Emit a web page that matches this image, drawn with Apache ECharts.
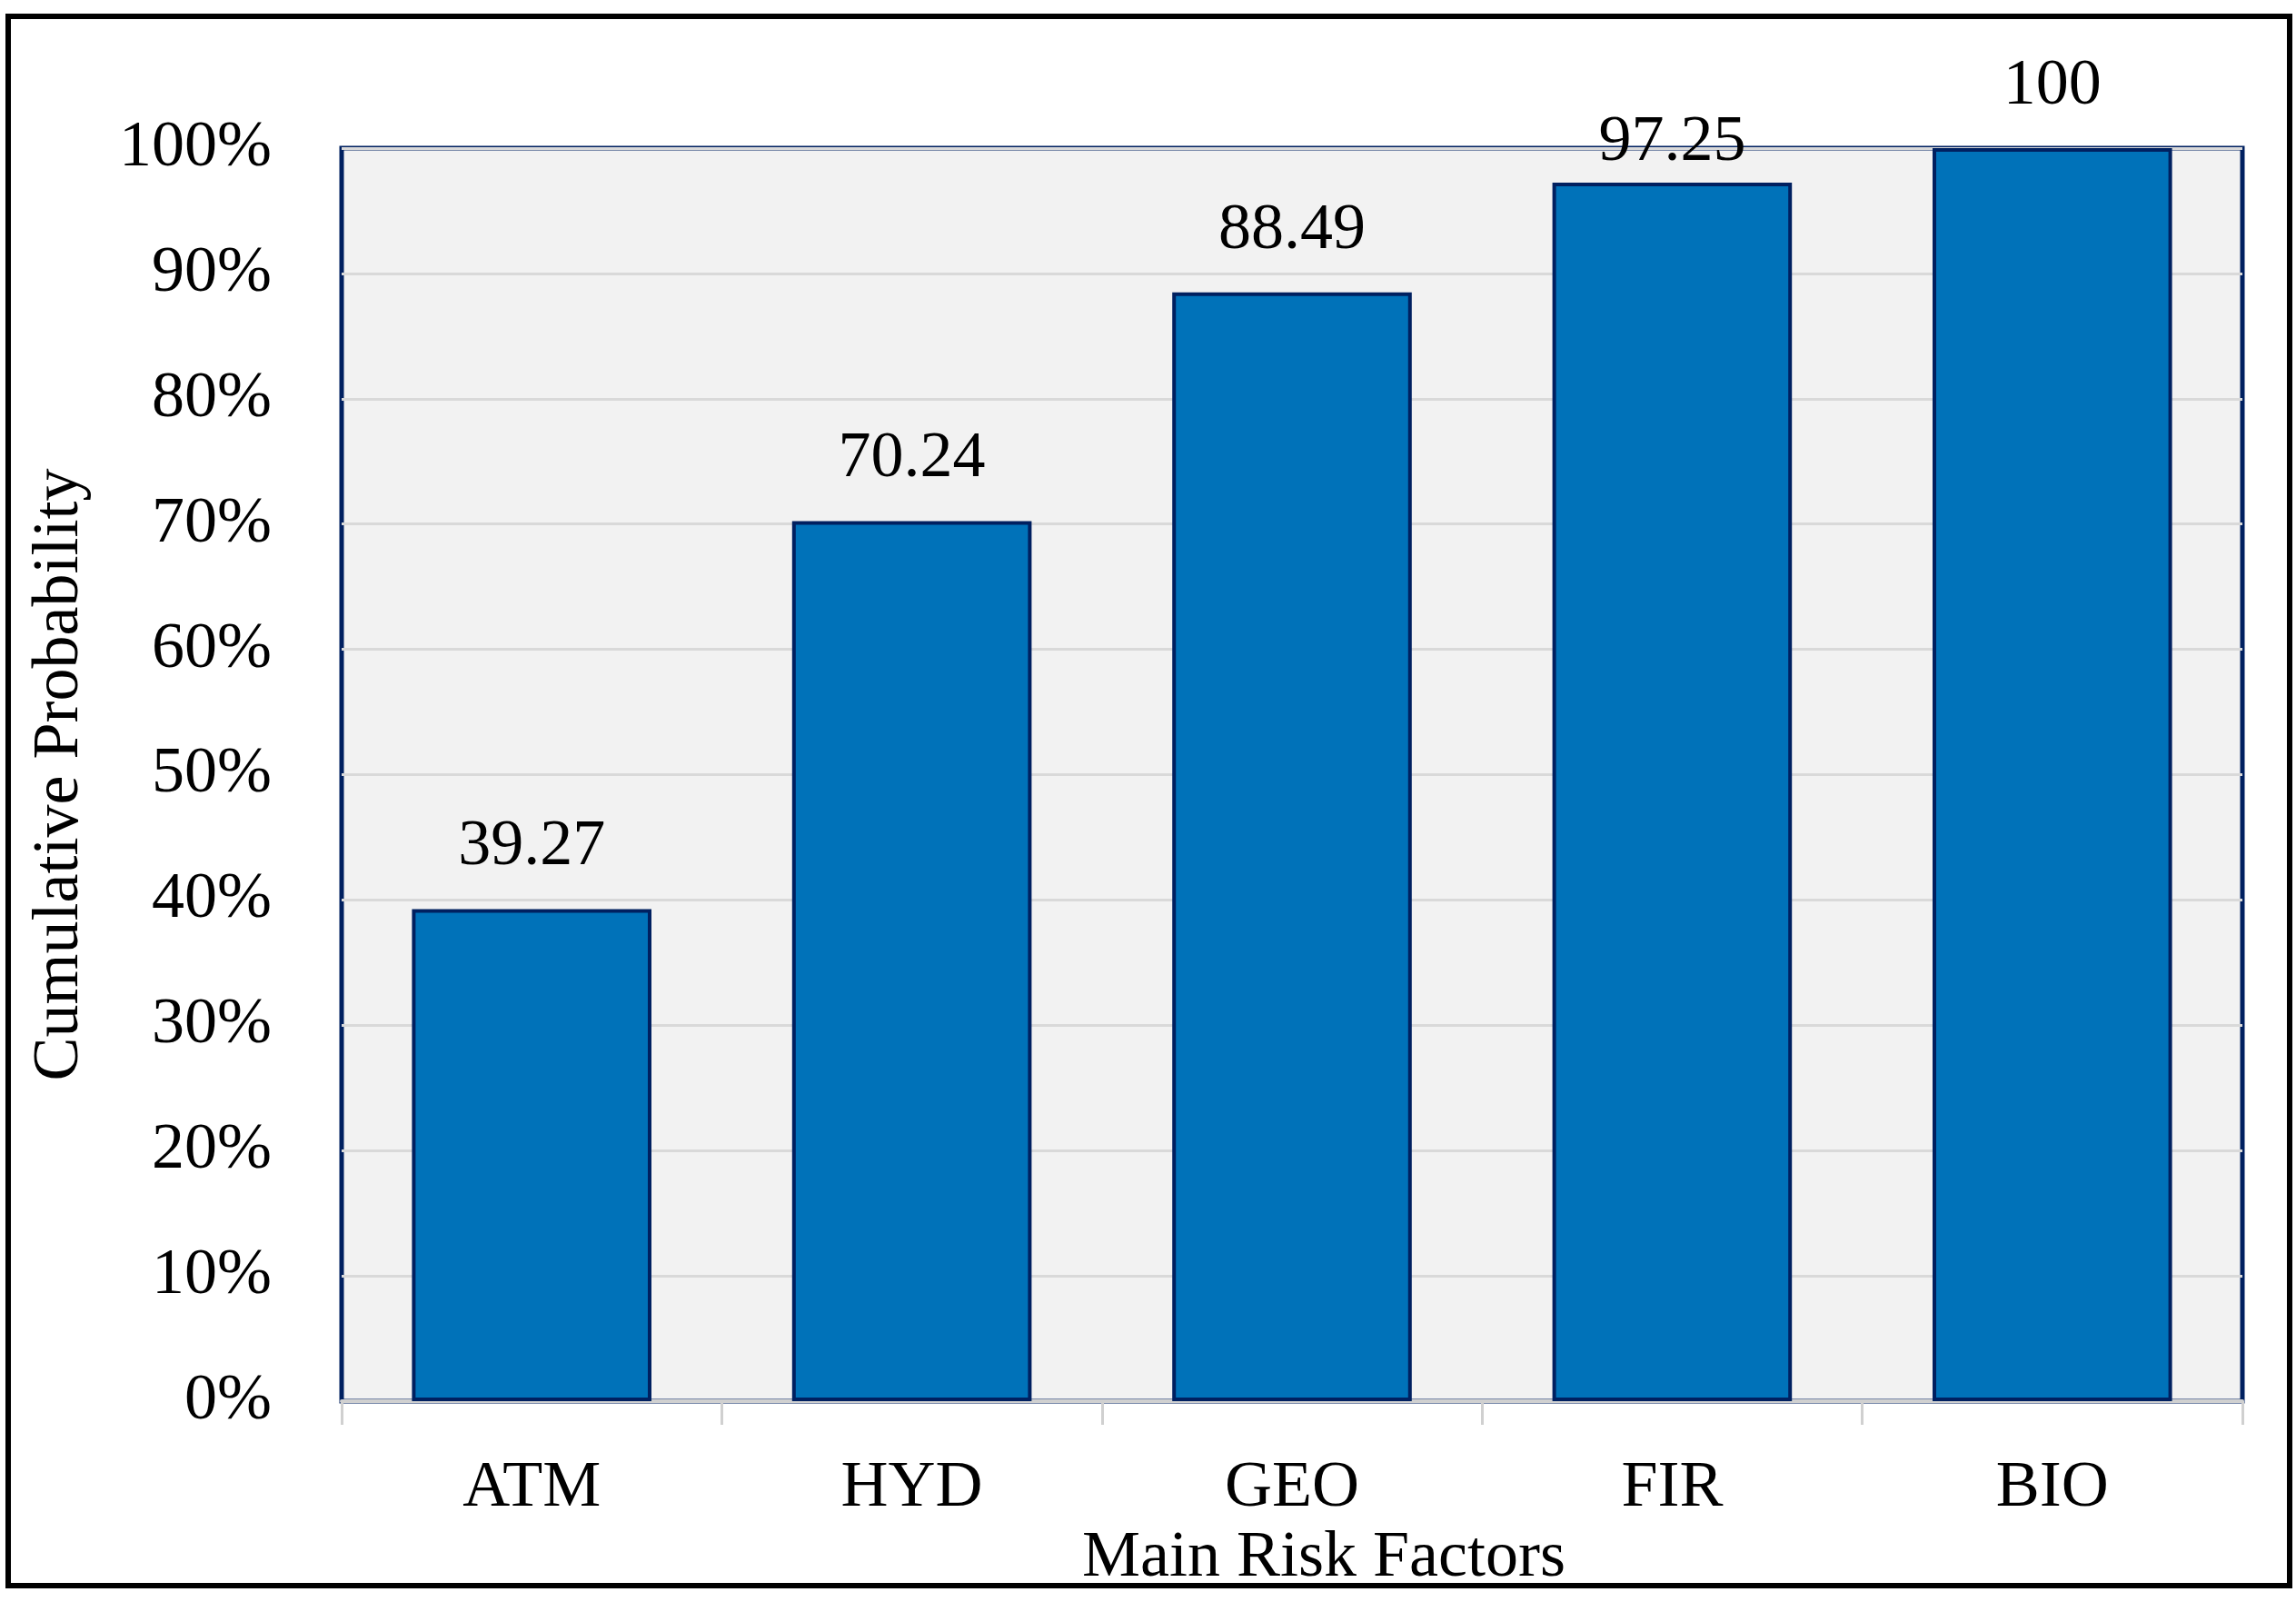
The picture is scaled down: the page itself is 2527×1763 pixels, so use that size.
<!DOCTYPE html>
<html>
<head>
<meta charset="utf-8">
<script src="https://cdn.jsdelivr.net/npm/echarts@6/dist/echarts.min.js"></script>
<style>
html,body{margin:0;padding:0;background:#fff;}
#chart{width:2527px;height:1763px;}
</style>
</head>
<body>
<div id="chart"></div>
<script>
const categories = ['ATM', 'HYD', 'GEO', 'FIR', 'BIO'];
const cumulativeValues = [39.27, 70.24, 88.49, 97.25, 100];
const yTickValues = [0, 10, 20, 30, 40, 50, 60, 70, 80, 90, 100];
const xAxisTitle = 'Main Risk Factors';
const yAxisTitle = 'Cumulative Probability';

const FONT = '"Liberation Serif", "DejaVu Serif", serif';
const FS = 72;

const chart = echarts.init(document.getElementById('chart'), null, {renderer: 'canvas'});

const seriesData = cumulativeValues.map((v, i) => {
  const item = {value: v};
  if (i === 3) item.label = {distance: 8};
  return item;
});

chart.setOption({
  animation: false,
  backgroundColor: '#ffffff',
  graphic: [{
    type: 'rect',
    shape: {x: 9, y: 18, width: 2511, height: 1727},
    style: {fill: 'none', stroke: '#000000', lineWidth: 6},
    z: 100
  }],
  grid: {
    left: 376, right: 2527 - 2468, top: 163, bottom: 1763 - 1542,
    show: true,
    backgroundColor: '#f2f2f2',
    borderColor: '#002060',
    borderWidth: 5
  },
  xAxis: {
    type: 'category',
    data: categories,
    name: xAxisTitle,
    nameLocation: 'middle',
    nameGap: 133,
    nameTextStyle: {fontFamily: FONT, fontSize: FS, color: '#000', padding: [0, 0, 0, 70]},
    axisLine: {show: true, lineStyle: {color: '#d0d0d0', width: 4}},
    axisTick: {show: true, alignWithLabel: false, length: 26, lineStyle: {color: '#d0d0d0', width: 3}},
    axisLabel: {fontFamily: FONT, fontSize: FS, color: '#000', margin: 60},
    splitLine: {show: false}
  },
  yAxis: {
    type: 'value',
    min: 0,
    max: 100,
    interval: 10,
    name: yAxisTitle,
    nameLocation: 'middle',
    nameGap: 274,
    nameRotate: 90,
    nameTextStyle: {fontFamily: FONT, fontSize: FS, color: '#000'},
    axisLine: {show: false},
    axisTick: {show: false},
    axisLabel: {
      fontFamily: FONT, fontSize: FS, color: '#000', margin: 77,
      formatter: v => (yTickValues.indexOf(v) >= 0 ? v + '%' : '')
    },
    splitLine: {show: true, lineStyle: {color: '#d9d9d9', width: 3}}
  },
  series: [{
    type: 'bar',
    data: seriesData,
    barCategoryGap: '37%',
    itemStyle: {color: '#0072b9', borderColor: '#002060', borderWidth: 4},
    label: {
      show: true,
      position: 'top',
      distance: 32,
      fontFamily: FONT,
      fontSize: FS,
      color: '#000'
    },
    z: 3
  }]
});
</script>
</body>
</html>
